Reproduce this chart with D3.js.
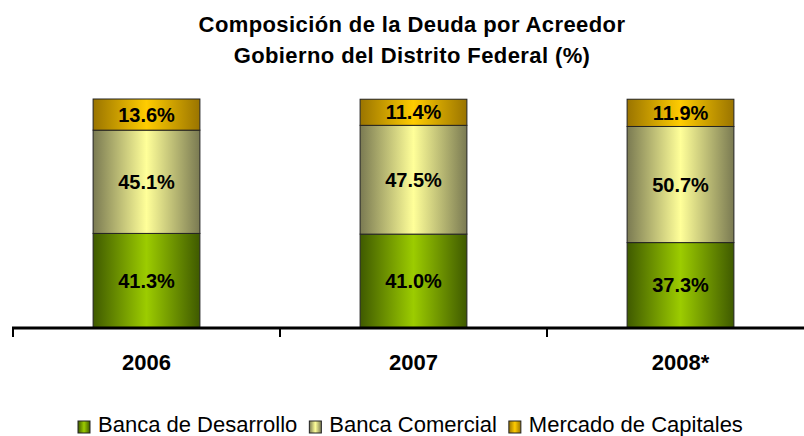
<!DOCTYPE html>
<html><head><meta charset="utf-8">
<script src="https://cdn.jsdelivr.net/npm/d3@7"></script>
<style>body{margin:0;background:#fff}svg{display:block}</style>
</head><body>
<svg id="c" width="804" height="436"></svg>
<script>
const titleLines = ["Composición de la Deuda por Acreedor", "Gobierno del Distrito Federal (%)"];
const categories = ["2006", "2007", "2008*"];
const seriesNames = ["Banca de Desarrollo", "Banca Comercial", "Mercado de Capitales"];
const bancaDesarrollo = [41.3, 41.0, 37.3];
const bancaComercial = [45.1, 47.5, 50.7];
const mercadoCapitales = [13.6, 11.4, 11.9];
const seriesValues = [bancaDesarrollo, bancaComercial, mercadoCapitales];
const gradColors = [["#3f5a00", "#9ccc00"], ["#7a7a52", "#ffff99"], ["#9a7400", "#ffcc00"]];

const svg = d3.select("#c");
const font = "Arial, 'Liberation Sans', sans-serif";
const defs = svg.append("defs");
gradColors.forEach((c, i) => {
  const g = defs.append("linearGradient").attr("id", "g" + i).attr("x1", "0%").attr("x2", "100%").attr("y1", "0%").attr("y2", "0%");
  g.append("stop").attr("offset", "0%").attr("stop-color", c[0]);
  g.append("stop").attr("offset", "50%").attr("stop-color", c[1]);
  g.append("stop").attr("offset", "100%").attr("stop-color", c[0]);
});

const x = d3.scaleBand().domain(categories).range([13, 814]).paddingInner(0.6).paddingOuter(0.3);
const y = d3.scaleLinear().domain([0, 100]).range([328, 99]);

// title
svg.append("g").selectAll("text").data(titleLines).join("text")
  .attr("x", 412).attr("y", (d, i) => 32 + i * 31)
  .attr("text-anchor", "middle").attr("font-family", font).attr("font-size", 22).attr("font-weight", "bold")
  .attr("letter-spacing", 0.4).attr("fill", "#000").text(d => d);

// stacks
const rows = categories.map((c, i) => {
  const r = { cat: c };
  seriesValues.forEach((s, k) => r["s" + k] = s[i]);
  return r;
});
const stack = d3.stack().keys(["s0", "s1", "s2"])(rows);
const gBars = svg.append("g");
stack.forEach((layer, k) => {
  const g = gBars.append("g");
  g.selectAll("rect").data(layer).join("rect")
    .attr("x", d => x(d.data.cat)).attr("width", x.bandwidth())
    .attr("y", d => y(d[1])).attr("height", d => y(d[0]) - y(d[1]))
    .attr("fill", `url(#g${k})`).attr("stroke", "#222").attr("stroke-width", 1);
  g.selectAll("text").data(layer).join("text")
    .attr("x", d => x(d.data.cat) + x.bandwidth() / 2)
    .attr("y", d => (y(d[0]) + y(d[1])) / 2 + 7)
    .attr("text-anchor", "middle").attr("font-family", font).attr("font-size", 20).attr("font-weight", "bold")
    .attr("fill", "#000").text(d => (d[1] - d[0]).toFixed(1) + "%");
});

// axis
const tickPos = d3.range(categories.length + 1).map(i => 13 + i * x.step());
svg.append("line").attr("x1", 12).attr("x2", 804).attr("y1", 328).attr("y2", 328).attr("stroke", "#000").attr("stroke-width", 3);
svg.append("g").selectAll("line").data(tickPos).join("line")
  .attr("x1", d => d).attr("x2", d => d).attr("y1", 328).attr("y2", 337).attr("stroke", "#000").attr("stroke-width", 2);
svg.append("g").selectAll("text").data(categories).join("text")
  .attr("x", d => x(d) + x.bandwidth() / 2).attr("y", 370)
  .attr("text-anchor", "middle").attr("font-family", font).attr("font-size", 22).attr("font-weight", "bold")
  .text(d => d);

// legend
const legend = svg.append("g");
let lx = 78;
seriesNames.forEach((n, k) => {
  legend.append("rect").attr("x", lx).attr("y", 421).attr("width", 12).attr("height", 12)
    .attr("fill", `url(#g${k})`).attr("stroke", "#222").attr("stroke-width", 1);
  const t = legend.append("text").attr("x", lx + 20).attr("y", 432)
    .attr("font-family", font).attr("font-size", 22).text(n);
  lx += 20 + t.node().getComputedTextLength() + 12;
});
</script>
</body></html>
